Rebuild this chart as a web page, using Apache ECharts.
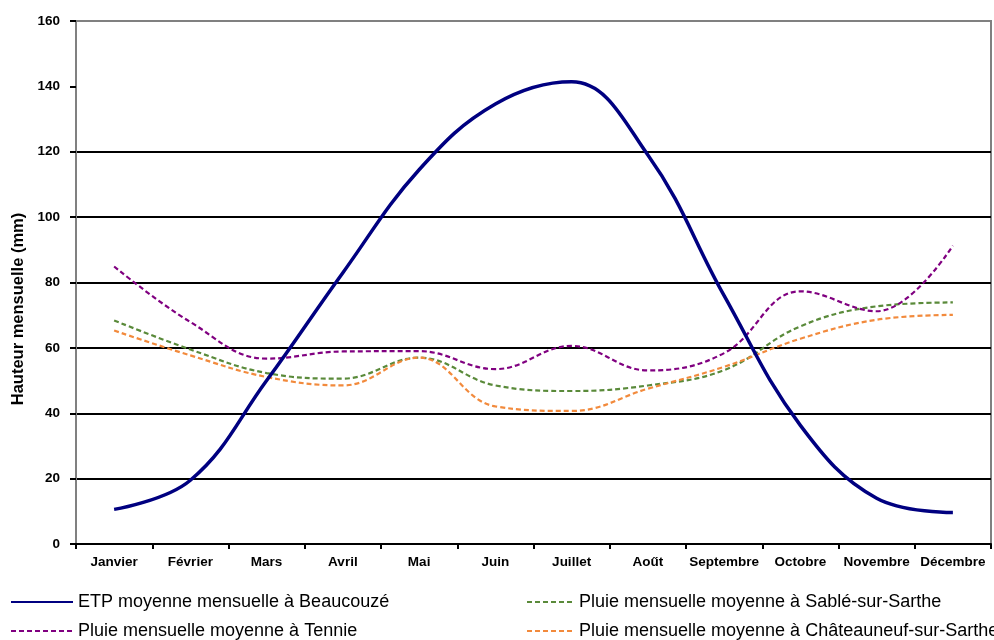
<!DOCTYPE html>
<html>
<head>
<meta charset="utf-8">
<script src="https://cdn.jsdelivr.net/npm/echarts@6/dist/echarts.min.js"></script>
<style>html,body{margin:0;padding:0;background:#fff}#c{width:994px;height:640px}</style>
</head>
<body>
<div id="c"></div>
<script>
var months = ['Janvier','Février','Mars','Avril','Mai','Juin','Juillet','Aoűt','Septembre','Octobre','Novembre','Décembre'];
var etpBeaucouze = [10.6, 19.5, 50, 83, 114.5, 134.6, 141.4, 119, 76, 36.3, 14, 9.6];
var pluieSable = [68.4, 59.5, 52.3, 50.6, 57.0, 48.5, 46.8, 48.5, 53.2, 66.6, 72.7, 73.9];
var pluieTennie = [84.9, 67.9, 56.7, 58.9, 59.0, 53.5, 60.6, 53.1, 58.4, 77.3, 71.2, 91.3];
var pluieChateauneuf = [65.3, 57.7, 51.1, 48.5, 57.0, 42.1, 40.7, 47.5, 54.2, 62.8, 68.6, 70.1];
var yTicks = [0, 20, 40, 60, 80, 100, 120, 140, 160];
var seriesNames = ['ETP moyenne mensuelle à Beaucouzé','Pluie mensuelle moyenne à Sablé-sur-Sarthe','Pluie mensuelle moyenne à Tennie','Pluie mensuelle moyenne à Châteauneuf-sur-Sarthe'];

var chart = echarts.init(document.getElementById('c'), null, {renderer:'canvas'});
var font = 'Arial, "Liberation Sans", sans-serif';
function leg(name, left, top, w) {
  return {data: [name], orient: 'horizontal', left: left, top: top, padding: 0, itemWidth: w, itemHeight: 14, itemGap: 0,
    selectedMode: false, itemStyle: {opacity: 0},
    textStyle: {fontSize: 18, color: '#000', fontFamily: font}};
}
chart.setOption({
  animation: false,
  backgroundColor: '#ffffff',
  textStyle: {fontFamily: font},
  grid: {left: 76, right: 3, top: 21, bottom: 96, show: true, borderColor: '#808080', borderWidth: 2},
  xAxis: {
    type: 'category', data: months, boundaryGap: true,
    axisLine: {lineStyle: {color: '#000', width: 2}},
    axisTick: {show: true, length: 5, lineStyle: {color: '#000', width: 2}},
    axisLabel: {color: '#000', fontWeight: 'bold', fontSize: 13.5, margin: 11, interval: 0, fontFamily: font},
    splitLine: {show: false}
  },
  yAxis: {
    type: 'value', min: yTicks[0], max: yTicks[yTicks.length-1], interval: 20,
    axisLine: {show: true, lineStyle: {color: '#808080', width: 2}},
    axisTick: {show: true, length: 6, lineStyle: {color: '#000', width: 2}},
    axisLabel: {color: '#000', fontWeight: 'bold', fontSize: 13.5, margin: 16, fontFamily: font,
      formatter: function(v){return yTicks.indexOf(v) >= 0 ? String(v) : '';}},
    splitLine: {show: true, lineStyle: {width: 2, color: ['#000','#000','#000','#000','#000','#000','#000','rgba(0,0,0,0)','#808080']}}
  },
  graphic: [{
    type: 'text', x: 18, y: 309, rotation: Math.PI/2,
    style: {text: 'Hauteur mensuelle (mm)', font: 'bold 16.5px ' + font, fill: '#000', textAlign: 'center', textVerticalAlign: 'middle'}
  }],
  legend: [
    leg(seriesNames[0], 10, 593, 62),
    leg(seriesNames[2], 10, 622, 62),
    leg(seriesNames[1], 526, 593, 47),
    leg(seriesNames[3], 526, 622, 47)
  ],
  series: [
    {name: seriesNames[0], type: 'line', data: etpBeaucouze, smooth: 0.4, symbol: 'none', z: 5,
     lineStyle: {color: '#000080', width: 3.5}, itemStyle: {color: '#000080'}},
    {name: seriesNames[1], type: 'line', data: pluieSable, smooth: 0.4, symbol: 'none', z: 3,
     lineStyle: {color: '#5a8a3a', width: 2.2, type: [5, 3]}, itemStyle: {color: '#5a8a3a'}},
    {name: seriesNames[2], type: 'line', data: pluieTennie, smooth: 0.4, symbol: 'none', z: 4,
     lineStyle: {color: '#800080', width: 2.2, type: [5, 3]}, itemStyle: {color: '#800080'}},
    {name: seriesNames[3], type: 'line', data: pluieChateauneuf, smooth: 0.4, symbol: 'none', z: 3,
     lineStyle: {color: '#f28a3c', width: 2.2, type: [5, 3]}, itemStyle: {color: '#f28a3c'}}
  ]
});
</script>
</body>
</html>
